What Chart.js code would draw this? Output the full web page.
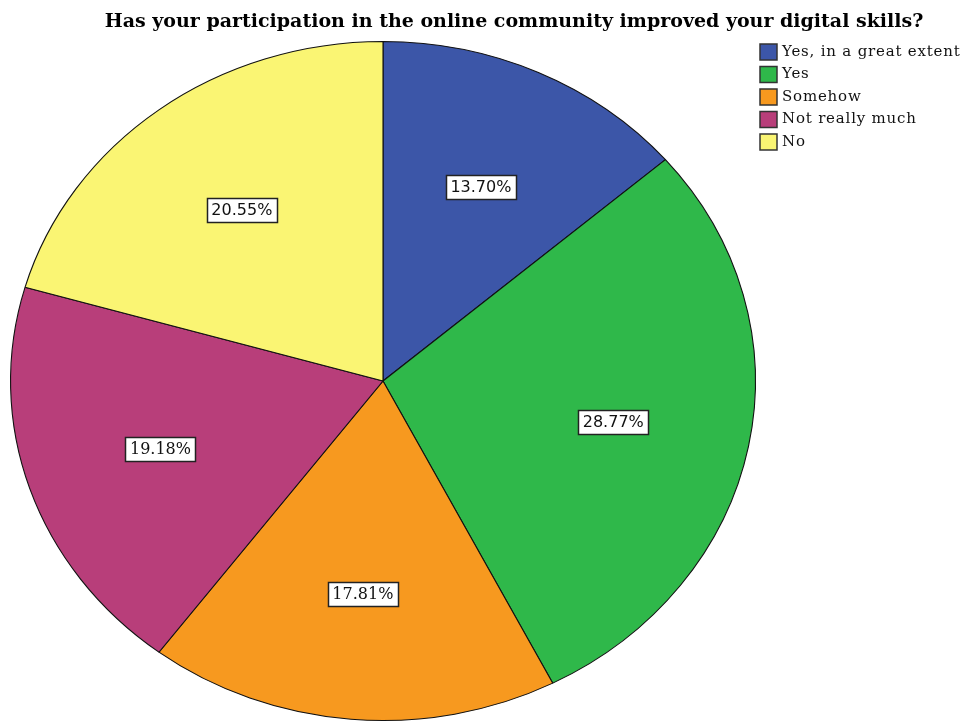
<!DOCTYPE html>
<html lang="en">
<head>
  <meta charset="UTF-8">
  <title>Digital skills</title>
  <script src="https://cdn.jsdelivr.net/npm/chart.js"></script>
  <style>
    html, body { margin: 0; padding: 0; background: #fff; }
    #wrap { width: 962px; height: 722px; }
  </style>
</head>
<body>
  <div id="wrap"><canvas id="grafico_pizza" width="962" height="722"></canvas></div>

<script>
  // answers and their share of respondents (%)
  const categorias = ['Yes, in a great extent', 'Yes', 'Somehow', 'Not really much', 'No'];
  const percentuais = [13.70, 28.77, 17.81, 19.18, 20.55];
  const cores = ['#3C56A8', '#2FB84A', '#F7991F', '#B83E7A', '#FAF573'];
  const titulo = 'Has your participation in the online community improved your digital skills?';

  // the pie is drawn a bit wider than tall
  const escalaX = 373 / 340;
  const fonteRotulo = ['DejaVu Sans', 'DejaVu Sans', 'DejaVu Serif', 'DejaVu Serif', 'DejaVu Sans'];

  const esticar = {
    id: 'esticar',
    beforeDatasetsDraw(chart) {
      const arc = chart.getDatasetMeta(0).data[0];
      const ctx = chart.ctx;
      ctx.save();
      ctx.translate(arc.x, arc.y);
      ctx.scale(escalaX, 1);
      ctx.translate(-arc.x, -arc.y);
    },
    afterDatasetsDraw(chart) {
      chart.ctx.restore();
    }
  };

  const rotulos = {
    id: 'rotulos',
    afterDraw(chart) {
      const ctx = chart.ctx;
      const meta = chart.getDatasetMeta(0);

      // percent labels in white boxes
      meta.data.forEach((arc, i) => {
        const p = arc.getProps(['x', 'y', 'startAngle', 'endAngle', 'outerRadius'], true);
        const meio = (p.startAngle + p.endAngle) / 2;
        const r = p.outerRadius * 0.63;
        const x = p.x + Math.cos(meio) * r * escalaX;
        const y = p.y + Math.sin(meio) * r;
        const texto = percentuais[i].toFixed(2) + '%';
        ctx.font = '16px "' + fonteRotulo[i] + '"';
        const w = Math.round(ctx.measureText(texto).width + 9);
        const h = 24;
        const bx = Math.round(x - w / 2) + 0.5;
        const by = Math.round(y - h / 2) + 0.5;
        ctx.fillStyle = '#fff';
        ctx.fillRect(bx, by, w, h);
        ctx.strokeStyle = '#222';
        ctx.lineWidth = 1.5;
        ctx.strokeRect(bx, by, w, h);
        ctx.fillStyle = '#111';
        ctx.textAlign = 'center';
        ctx.textBaseline = 'middle';
        ctx.fillText(texto, x, y + 1);
      });

      // title
      ctx.font = 'bold 19px "DejaVu Serif"';
      ctx.fillStyle = '#000';
      ctx.textAlign = 'center';
      ctx.textBaseline = 'alphabetic';
      ctx.fillText(titulo, 514, 27);

      // legend
      ctx.textAlign = 'left';
      ctx.textBaseline = 'middle';
      ctx.font = '15px "DejaVu Serif"';
      ctx.letterSpacing = '0.8px';
      categorias.forEach((c, i) => {
        const y = 52 + i * 22.5;
        ctx.fillStyle = cores[i];
        ctx.fillRect(760, y - 8, 17, 16);
        ctx.strokeStyle = '#333';
        ctx.lineWidth = 1.5;
        ctx.strokeRect(760, y - 8, 17, 16);
        ctx.fillStyle = '#111';
        ctx.fillText(c, 782, y);
      });
      ctx.letterSpacing = '0px';
    }
  };

  const data = {
    labels: categorias,
    datasets: [{
      data: percentuais,
      backgroundColor: cores,
      borderColor: '#111',
      borderWidth: 1,
      clip: false
    }]
  };

  const config = {
    type: 'pie',
    data: data,
    options: {
      responsive: false,
      animation: false,
      layout: { padding: { top: 41, bottom: 1, left: 43, right: 239 } },
      plugins: {
        legend: { display: false },
        tooltip: { enabled: false }
      }
    },
    plugins: [esticar, rotulos]
  };

  const myChart = new Chart(document.getElementById('grafico_pizza'), config);
</script>
</body>
</html>
